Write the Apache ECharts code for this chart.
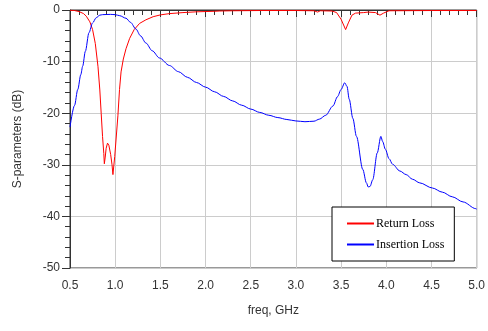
<!DOCTYPE html>
<html>
<head>
<meta charset="utf-8">
<script src="https://cdn.jsdelivr.net/npm/echarts@6/dist/echarts.min.js"></script>
<style>html,body{margin:0;padding:0;background:#fff;}#c{width:488px;height:331px;}</style>
</head>
<body>
<div id="c"></div>
<script>
// Return Loss (S11) frequency (GHz) and value (dB)
var rlFreq = [0.5,0.55,0.6,0.65,0.68,0.72,0.75,0.78,0.81,0.83,0.845,0.86,0.874,0.88,0.89,0.9,0.915,0.93,0.95,0.965,0.975,0.985,0.995,1.01,1.03,1.048,1.065,1.09,1.12,1.16,1.21,1.27,1.34,1.42,1.5,1.6,1.75,1.9,2.1,2.12,2.15,2.3,2.6,3.0,3.2,3.24,3.27,3.4,3.45,3.5,3.55,3.58,3.62,3.66,3.75,3.8,3.88,3.93,3.97,4.03,4.5,5.0];
var rlVal  = [-0.05,-0.1,-0.3,-0.7,-1.2,-2.3,-3.8,-6.5,-11,-15.5,-20,-24.5,-27.8,-29.8,-28.5,-26.8,-25.8,-26.2,-28,-30,-31.9,-31.9,-28.4,-28.3,-20.5,-15.4,-12,-9.5,-7.5,-5.5,-3.8,-2.6,-1.9,-1.3,-0.95,-0.7,-0.5,-0.35,-0.25,-0.35,-0.2,-0.15,-0.1,-0.1,-0.15,-0.4,-0.15,-0.2,-0.5,-1.8,-3.8,-2.5,-1.0,-0.6,-0.5,-0.4,-0.5,-1.0,-0.6,-0.15,-0.1,-0.1];
// Insertion Loss (S21)
var ilFreq = [0.5,0.55,0.586,0.62,0.64,0.67,0.71,0.75,0.79,0.83,0.86,0.95,1.0,1.05,1.12,1.17,1.23,1.28,1.34,1.41,1.49,1.6,1.7,1.8,1.9,2.0,2.1,2.2,2.3,2.4,2.5,2.6,2.7,2.8,2.9,3.0,3.1,3.2,3.26,3.33,3.41,3.46,3.5,3.54,3.565,3.59,3.63,3.67,3.74,3.78,3.8,3.82,3.85,3.9,3.94,3.96,3.99,4.03,4.07,4.15,4.22,4.29,4.37,4.51,4.62,4.73,4.85,4.99,5.0];
var ilVal  = [-22.7,-18.5,-15.4,-12.5,-10.9,-8,-4.4,-2.5,-1.5,-1.0,-0.9,-0.85,-0.9,-1.1,-1.6,-2.4,-3.7,-5.0,-6.4,-7.9,-9.3,-10.75,-11.95,-13.05,-14.05,-14.95,-15.85,-16.75,-17.62,-18.45,-19.2,-19.85,-20.4,-20.85,-21.22,-21.5,-21.65,-21.55,-21.15,-20.4,-18.6,-16.8,-15.4,-14.1,-14.8,-17.3,-21,-24.5,-30.9,-33.5,-34.3,-34.2,-32.9,-27.7,-24.5,-25.5,-27,-28.8,-29.9,-31.2,-31.9,-32.8,-33.5,-34.5,-35.3,-36.2,-37.2,-38.5,-38.6];
var seriesNames = ['Return Loss','Insertion Loss'];
var xTitle = 'freq, GHz';
var yTitle = 'S-parameters (dB)';

function pairs(f, v){ return f.map(function(x,i){ return [x, v[i]]; }); }

var chart = echarts.init(document.getElementById('c'), null, {renderer:'canvas'});
chart.setOption({
  animation: false,
  grid: {left:70, right:11, top:10, bottom:63, show:true, borderColor:'#333', borderWidth:1, backgroundColor:'#fff'},
  legend: {
    orient:'vertical', left:332, top:207,
    padding:[8,10,8,15], itemGap:4,
    backgroundColor:'#fff', borderColor:'#000', borderWidth:1, borderRadius:0,
    itemWidth:27, itemHeight:2, icon:'rect',
    textStyle:{fontFamily:'Liberation Serif', fontSize:12, color:'#000', lineHeight:14, padding:[0,0,3,-3]},
    data: seriesNames
  },
  xAxis: {
    type:'value', min:0.5, max:5.0, interval:0.5,
    name: xTitle, nameLocation:'middle', nameGap:37,
    nameTextStyle:{fontFamily:'Liberation Sans', fontSize:12, color:'#333'},
    axisLine:{lineStyle:{color:'#333', width:1}},
    axisTick:{show:true, length:7, lineStyle:{color:'#333'}},
    minorTick:{show:true, splitNumber:5, length:5, lineStyle:{color:'#333'}},
    axisLabel:{margin:12, fontFamily:'Liberation Sans', fontSize:12, color:'#333', formatter:function(v){return v.toFixed(1);}},
    splitLine:{show:true, lineStyle:{color:'#cccccc', width:1}}
  },
  yAxis: {
    type:'value', min:-50, max:0, interval:10,
    name: yTitle, nameLocation:'middle', nameGap:46,
    nameTextStyle:{fontFamily:'Liberation Sans', fontSize:12, color:'#333'},
    axisLine:{show:true, lineStyle:{color:'#333', width:1}},
    axisTick:{show:true, length:8, lineStyle:{color:'#333'}},
    minorTick:{show:true, splitNumber:5, length:5, lineStyle:{color:'#333'}},
    axisLabel:{margin:10, fontFamily:'Liberation Sans', fontSize:12, color:'#333'},
    splitLine:{show:true, lineStyle:{color:'#cccccc', width:1}}
  },
  series: [
    {name:seriesNames[0], type:'line', data:pairs(rlFreq, rlVal), showSymbol:false, symbol:'none', smooth:false,
     lineStyle:{color:'#ff0000', width:1}, itemStyle:{color:'#ff0000'}},
    {name:seriesNames[1], type:'line', data:pairs(ilFreq, ilVal), showSymbol:false, symbol:'none', smooth:0.3, smoothMonotone:'x',
     lineStyle:{color:'#0000ff', width:1}, itemStyle:{color:'#0000ff'}}
  ]
});
</script>
</body>
</html>
